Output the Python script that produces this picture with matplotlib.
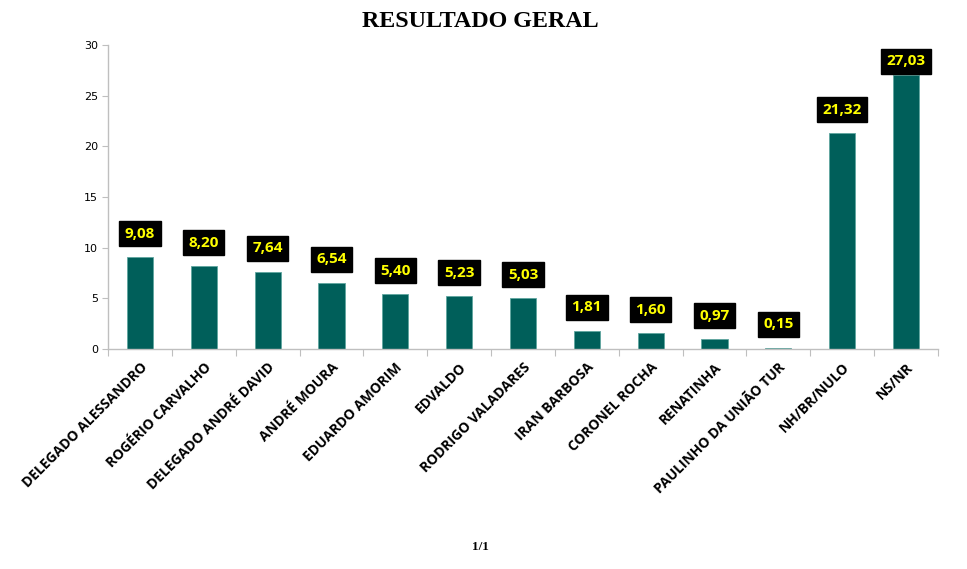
import matplotlib
matplotlib.use('Agg')
import matplotlib.pyplot as plt
import numpy as np

CANDIDATOS = ['DELEGADO ALESSANDRO', 'ROGÉRIO CARVALHO', 'DELEGADO ANDRÉ DAVID',
              'ANDRÉ MOURA', 'EDUARDO AMORIM', 'EDVALDO', 'RODRIGO VALADARES',
              'IRAN BARBOSA', 'CORONEL ROCHA', 'RENATINHA',
              'PAULINHO DA UNIÃO TUR', 'NH/BR/NULO', 'NS/NR']
VALORES = [9.08, 8.20, 7.64, 6.54, 5.40, 5.23, 5.03, 1.81, 1.60, 0.97, 0.15, 21.32, 27.03]
Y_TICKS = [0, 5, 10, 15, 20, 25, 30]

fig = plt.figure(figsize=(9.67, 5.69), dpi=100)
ax = fig.add_axes([0.1117, 0.3866, 0.8583, 0.5343])

x = np.arange(len(CANDIDATOS))
ax.bar(x, VALORES, width=0.41, color='#005F5A', edgecolor='#5FA6A0', linewidth=0.6, zorder=2)

# rotulos: caixa preta, texto amarelo (o ultimo fica preso no topo)
for xi, v in zip(x, VALORES):
    ax.text(xi, min(v + 2.3, 28.4), f'{v:.2f}'.replace('.', ','),
            ha='center', va='center', color='#FFFF00', fontsize=11, fontweight='bold',
            family='Open Sans',
            bbox=dict(boxstyle='square,pad=0.36', fc='black', ec='black'))

ax.set_xlim(-0.5, len(CANDIDATOS) - 0.5)
ax.set_ylim(0, 30)
ax.set_yticks(Y_TICKS)
ax.set_yticklabels([str(t) for t in Y_TICKS], fontsize=8, family='DejaVu Sans')
ax.tick_params(axis='y', length=4, color='#BFBFBF', pad=3)

ax.set_xticks(np.arange(len(CANDIDATOS) + 1) - 0.5, minor=False)
ax.set_xticklabels([])
ax.tick_params(axis='x', length=5, color='#BFBFBF', direction='out')
ax.set_xticks(x, minor=True)
ax.set_xticklabels(CANDIDATOS, minor=True, rotation=45, ha='right', va='top',
                   rotation_mode='anchor', fontsize=10, fontweight='bold', family='Open Sans')
ax.tick_params(axis='x', which='minor', length=0, pad=8)

for s in ['top', 'right']:
    ax.spines[s].set_visible(False)
for s in ['left', 'bottom']:
    ax.spines[s].set_color('#BFBFBF')
    ax.spines[s].set_linewidth(1)

fig.text(0.497, 0.962, 'RESULTADO GERAL', ha='center', va='center', fontsize=17.3,
         fontweight='bold', family='Liberation Serif')
fig.text(0.497, 0.038, '1/1', ha='center', va='center', fontsize=9.5,
         fontweight='bold', family='Liberation Serif')

plt.savefig('out.png', dpi=100)
